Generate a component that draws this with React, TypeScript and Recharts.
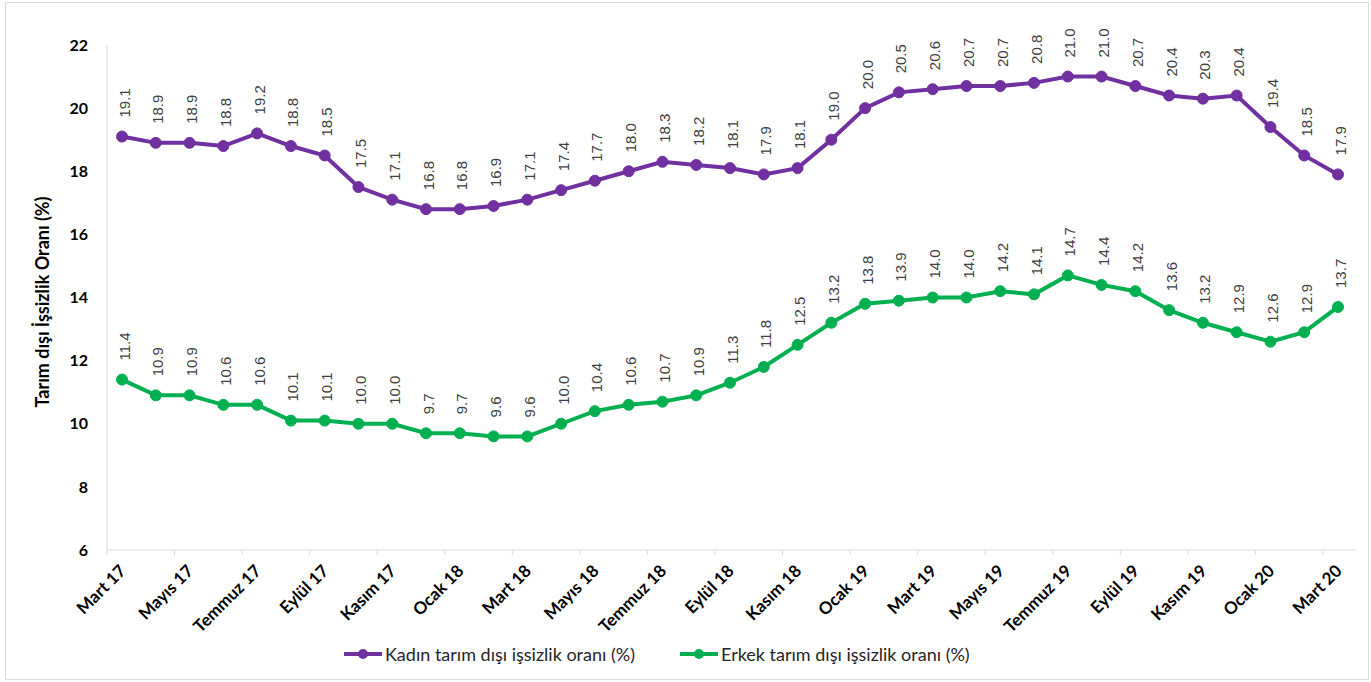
// Tarım dışı işsizlik oranı - kadın / erkek line chart

import { LineChart, Line, XAxis, YAxis, LabelList } from 'recharts';

// =============================================================================
// Data
// =============================================================================

const MONTHS = [
  'Mart 17', 'Nisan 17', 'Mayıs 17', 'Haziran 17', 'Temmuz 17', 'Ağustos 17',
  'Eylül 17', 'Ekim 17', 'Kasım 17', 'Aralık 17', 'Ocak 18', 'Şubat 18',
  'Mart 18', 'Nisan 18', 'Mayıs 18', 'Haziran 18', 'Temmuz 18', 'Ağustos 18',
  'Eylül 18', 'Ekim 18', 'Kasım 18', 'Aralık 18', 'Ocak 19', 'Şubat 19',
  'Mart 19', 'Nisan 19', 'Mayıs 19', 'Haziran 19', 'Temmuz 19', 'Ağustos 19',
  'Eylül 19', 'Ekim 19', 'Kasım 19', 'Aralık 19', 'Ocak 20', 'Şubat 20',
  'Mart 20',
];

const KADIN = [
  19.1, 18.9, 18.9, 18.8, 19.2, 18.8, 18.5, 17.5, 17.1, 16.8, 16.8, 16.9,
  17.1, 17.4, 17.7, 18.0, 18.3, 18.2, 18.1, 17.9, 18.1, 19.0, 20.0, 20.5,
  20.6, 20.7, 20.7, 20.8, 21.0, 21.0, 20.7, 20.4, 20.3, 20.4, 19.4, 18.5,
  17.9,
];

const ERKEK = [
  11.4, 10.9, 10.9, 10.6, 10.6, 10.1, 10.1, 10.0, 10.0, 9.7, 9.7, 9.6,
  9.6, 10.0, 10.4, 10.6, 10.7, 10.9, 11.3, 11.8, 12.5, 13.2, 13.8, 13.9,
  14.0, 14.0, 14.2, 14.1, 14.7, 14.4, 14.2, 13.6, 13.2, 12.9, 12.6, 12.9,
  13.7,
];

const Y_TICKS = [6, 8, 10, 12, 14, 16, 18, 20, 22];

const SERIES_NAMES = {
  kadin: 'Kadın tarım dışı işsizlik oranı (%)',
  erkek: 'Erkek tarım dışı işsizlik oranı (%)',
};

// =============================================================================
// Constants
// =============================================================================

const COLORS = {
  kadin: '#7030A0',
  erkek: '#00B050',
  axis: '#d9d9d9',
  text: '#000000',
};

const TICK_FONT = 'Lato, "Open Sans", sans-serif';
const LABEL_FONT = '"Liberation Sans", Arial, sans-serif';

const chartData = MONTHS.map((m, i) => ({ month: m, kadin: KADIN[i], erkek: ERKEK[i] }));

// =============================================================================
// Custom pieces
// =============================================================================

function XTick({ x, y, payload }: any) {
  const bx = x - 15;
  const tx = x + 5;
  const ty = y + 14;
  return (
    <g>
      <line x1={bx} y1={y - 8} x2={bx} y2={y - 3} stroke={COLORS.axis} strokeWidth={1} />
      <text
        x={tx}
        y={ty}
        transform={`rotate(-45, ${tx}, ${ty})`}
        textAnchor="end"
        fontFamily={TICK_FONT}
        fontWeight={700}
        fontSize={17}
        fill={COLORS.text}
      >
        {payload.value}
      </text>
    </g>
  );
}

function ValueLabel({ x, y, value }: any) {
  const lx = x + 2;
  const ly = y - 19;
  return (
    <text
      x={lx}
      y={ly}
      transform={`rotate(-90, ${lx}, ${ly})`}
      textAnchor="start"
      dominantBaseline="central"
      fontFamily={LABEL_FONT}
      fontSize={15}
      fill="#404040"
    >
      {Number(value).toFixed(1)}
    </text>
  );
}

function LegendItem({ color, label }: { color: string; label: string }) {
  return (
    <div style={{ display: 'flex', alignItems: 'center' }}>
      <svg width={40} height={14}>
        <line x1={1} y1={7} x2={39} y2={7} stroke={color} strokeWidth={4} />
        <circle cx={20} cy={7} r={5} fill={color} />
      </svg>
      <span style={{ fontFamily: TICK_FONT, fontSize: 18, color: '#262626', marginLeft: 2 }}>
        {label}
      </span>
    </div>
  );
}

// =============================================================================
// Component
// =============================================================================

export default function App() {
  return (
    <div style={{ position: 'absolute', left: 0, top: 0, width: 1371, height: 682, background: '#fff' }}>
      <div
        style={{
          position: 'absolute',
          left: 5,
          top: 2,
          width: 1362,
          height: 676,
          border: `1px solid ${COLORS.axis}`,
        }}
      />
      <LineChart
        width={1371}
        height={682}
        data={chartData}
        margin={{ top: 45, right: 14, bottom: 42, left: 47 }}
        style={{ position: 'absolute', left: 0, top: 0 }}
      >
        <XAxis
          dataKey="month"
          interval={1}
          height={90}
          padding={{ left: 15, right: 19 }}
          axisLine={{ stroke: COLORS.axis }}
          tickLine={false}
          tick={<XTick />}
        />
        <YAxis
          domain={[6, 22]}
          ticks={Y_TICKS}
          width={60}
          axisLine={{ stroke: COLORS.axis }}
          tickLine={false}
          tickMargin={13}
          tick={{ fontFamily: TICK_FONT, fontWeight: 700, fontSize: 16, fill: COLORS.text }}
        />
        <Line
          dataKey="kadin"
          name={SERIES_NAMES.kadin}
          stroke={COLORS.kadin}
          strokeWidth={4}
          dot={{ r: 5.5, fill: COLORS.kadin, stroke: COLORS.kadin, strokeWidth: 1 }}
          isAnimationActive={false}
        >
          <LabelList dataKey="kadin" content={<ValueLabel />} />
        </Line>
        <Line
          dataKey="erkek"
          name={SERIES_NAMES.erkek}
          stroke={COLORS.erkek}
          strokeWidth={4}
          dot={{ r: 5.5, fill: COLORS.erkek, stroke: COLORS.erkek, strokeWidth: 1 }}
          isAnimationActive={false}
        >
          <LabelList dataKey="erkek" content={<ValueLabel />} />
        </Line>
      </LineChart>
      <div style={{ position: 'absolute', left: 0, top: 302, width: 0, height: 0 }}>
        <div
          style={{
            position: 'absolute',
            left: 42,
            top: 0,
            transform: 'translate(-50%, -50%) rotate(-90deg)',
            whiteSpace: 'nowrap',
            fontFamily: TICK_FONT,
            fontWeight: 700,
            fontSize: 18,
            color: COLORS.text,
          }}
        >
          Tarım dışı İşsizlik Oranı (%)
        </div>
      </div>
      <div style={{ position: 'absolute', left: 343, top: 643, display: 'flex', gap: 44 }}>
        <LegendItem color={COLORS.kadin} label={SERIES_NAMES.kadin} />
        <LegendItem color={COLORS.erkek} label={SERIES_NAMES.erkek} />
      </div>
    </div>
  );
}
